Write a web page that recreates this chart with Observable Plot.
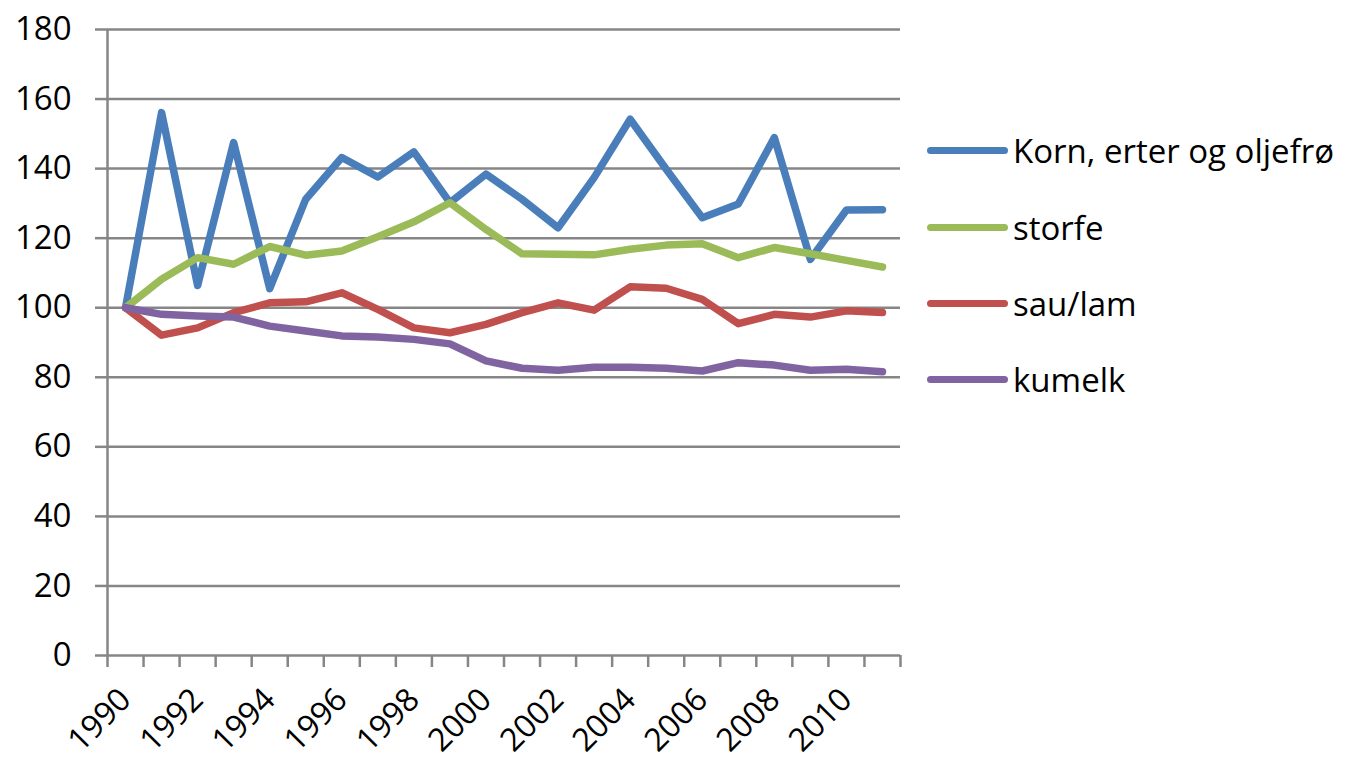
<!DOCTYPE html>
<html>
<head>
<meta charset="utf-8">
<script src="https://cdn.jsdelivr.net/npm/d3@7"></script>
<script src="https://cdn.jsdelivr.net/npm/@observablehq/plot@0.6"></script>
<style>
  html, body { margin: 0; padding: 0; background: #fff; }
  #wrap { position: relative; width: 1365px; height: 762px; overflow: hidden; }
  #legend { position: absolute; left: 927px; top: 0; font-family: "Open Sans", sans-serif; font-size: 33px; color: #000; }
  .item { position: absolute; left: 0; display: flex; align-items: center; white-space: nowrap; }
  .swatch { width: 81px; height: 7px; border-radius: 4px; margin-right: 5px; }
</style>
</head>
<body>
<div id="wrap"><div id="legend"></div></div>
<script>
const years = d3.range(1990, 2012);
const seriesNames = ["Korn, erter og oljefrø", "storfe", "sau/lam", "kumelk"];
const seriesColors = ["#4A7EBB", "#9BBB59", "#C0504D", "#8064A2"];
const korn   = [100, 156.1, 106.4, 147.5, 105.5, 131.2, 143.2, 137.6, 144.8, 130.2, 138.4, 131.2, 123.0, 137.4, 154.2, 139.8, 125.9, 129.8, 148.9, 113.9, 128.1, 128.2];
const storfe = [100, 108.2, 114.4, 112.5, 117.6, 115.1, 116.3, 120.4, 124.7, 130.2, 122.5, 115.5, 115.4, 115.2, 116.8, 118.0, 118.4, 114.4, 117.3, 115.5, 113.6, 111.7];
const saulam = [100, 92.1, 94.2, 98.6, 101.4, 101.7, 104.3, 99.5, 94.2, 92.8, 95.2, 98.6, 101.4, 99.3, 106.0, 105.6, 102.4, 95.4, 98.1, 97.3, 99.1, 98.6];
const kumelk = [100, 98.1, 97.6, 97.3, 94.7, 93.3, 91.9, 91.6, 90.9, 89.6, 84.7, 82.6, 82.0, 82.9, 82.9, 82.6, 81.8, 84.2, 83.5, 82.0, 82.3, 81.6];
const yTicks = d3.range(0, 181, 20);
const xLabelYears = years.filter(y => y % 2 === 0);

const allValues = [korn, storfe, saulam, kumelk];
const data = [];
allValues.forEach((vals, si) => vals.forEach((v, i) => data.push({series: seriesNames[si], year: years[i], value: v})));

const boundaries = years.map(y => y - 0.5).concat([years[years.length - 1] + 0.5]);
const gridColor = "#868686";

const chart = Plot.plot({
  width: 1365,
  height: 762,
  marginLeft: 107,
  marginRight: 465,
  marginTop: 29,
  marginBottom: 107,
  style: {fontFamily: "Open Sans, sans-serif", fontSize: "33px", color: "#000", background: "#fff", overflow: "visible"},
  x: {domain: [boundaries[0], boundaries[boundaries.length - 1]]},
  y: {domain: [0, 180]},
  color: {domain: seriesNames, range: seriesColors},
  marks: [
    Plot.gridY(yTicks.filter(t => t > 0), {stroke: gridColor, strokeOpacity: 1, strokeWidth: 2.5}),
    Plot.ruleX([boundaries[0]], {stroke: gridColor, strokeWidth: 2.5}),
    Plot.ruleY([0], {stroke: gridColor, strokeWidth: 2.5}),
    Plot.axisY({ticks: yTicks, tickSize: 12, tickPadding: 24, stroke: gridColor, strokeWidth: 2.5, fill: "#000", fontSize: 33, label: null}),
    Plot.axisX({ticks: boundaries, tickSize: 12, tickFormat: () => "", stroke: gridColor, strokeWidth: 2.5, label: null}),
    Plot.axisX({ticks: xLabelYears, tickSize: 0, tickRotate: -45, textAnchor: "end", tickFormat: d => String(d), fill: "#000", fontSize: 32, dx: 0, dy: 27, label: null}),
    Plot.line(data, {x: "year", y: "value", z: "series", stroke: "series", strokeWidth: 7.5, strokeLinejoin: "round", strokeLinecap: "round"})
  ]
});
document.getElementById("wrap").prepend(chart);

const legend = document.getElementById("legend");
const legendY = [150, 227, 303, 379];
seriesNames.forEach((name, i) => {
  const item = document.createElement("div");
  item.className = "item";
  item.style.top = (legendY[i] - 25) + "px";
  item.style.height = "50px";
  const sw = document.createElement("div");
  sw.className = "swatch";
  sw.style.background = seriesColors[i];
  const tx = document.createElement("span");
  tx.textContent = name;
  item.appendChild(sw);
  item.appendChild(tx);
  legend.appendChild(item);
});
</script>
</body>
</html>
